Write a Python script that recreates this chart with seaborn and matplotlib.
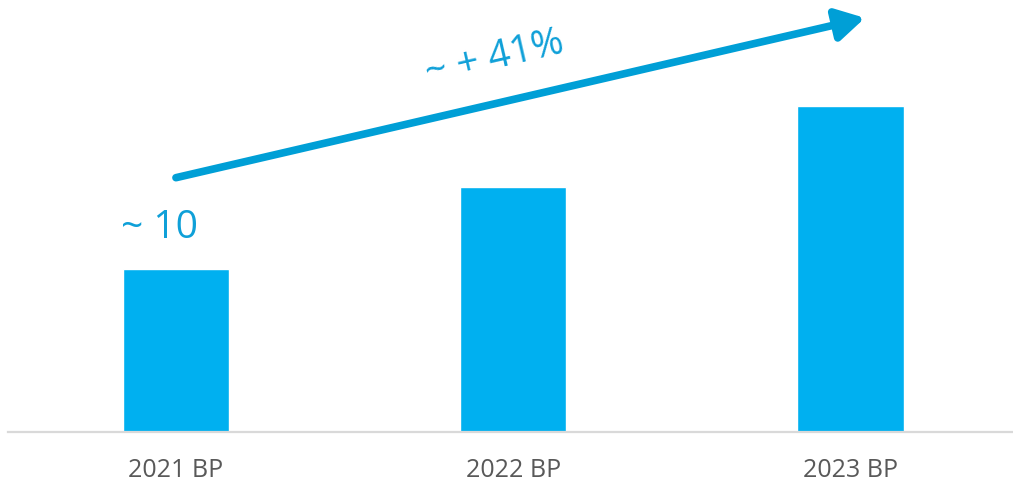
import matplotlib
matplotlib.use("Agg")
import matplotlib.pyplot as plt
import seaborn as sns
import pandas as pd

# Business-plan volumes by year
categories = ["2021 BP", "2022 BP", "2023 BP"]
values = [10, 15, 20]
first_label = "~ 10"
growth_label = "~ + 41%"

sns.set_theme(style="white")
plt.rcParams["font.family"] = ["Open Sans", "DejaVu Sans"]

BAR_BLUE = "#00B0F0"
TEXT_BLUE = "#0FA0D8"
ARROW_BLUE = "#009FD6"
GRAY_TEXT = "#595959"
AXIS_GRAY = "#D9D9D9"

df = pd.DataFrame({"year": categories, "value": values})

fig = plt.figure(figsize=(10.13, 4.84), dpi=100)
ax = fig.add_axes([8 / 1013, 52 / 484, 1 - 8 / 1013, 432 / 484])

sns.barplot(data=df, x="year", y="value", color=BAR_BLUE, width=0.315,
            saturation=1, ax=ax)

ax.set_xlim(-0.498, 2.482)
ax.set_ylim(0, 26.5)

for side in ["top", "right", "left"]:
    ax.spines[side].set_visible(False)
ax.spines["bottom"].set_color(AXIS_GRAY)
ax.spines["bottom"].set_linewidth(1.6)

ax.set_yticks([])
ax.set_xlabel("")
ax.set_ylabel("")
ax.tick_params(axis="x", length=0, pad=19, labelsize=18, labelcolor=GRAY_TEXT)

# Value label on the first bar
ax.text(-0.05, values[0] + 1.35, first_label, ha="center", va="bottom",
        fontsize=28, color=TEXT_BLUE)

# Growth arrow across the bars
ax.annotate("", xy=(2.043, 25.4), xytext=(0.0, 15.6),
            arrowprops=dict(arrowstyle="-|>,head_length=1.4,head_width=0.8",
                            color=ARROW_BLUE, lw=5.5, shrinkA=0, shrinkB=0),
            annotation_clip=False)
ax.text(0.946, 22.9, growth_label, ha="center", va="center", rotation=13,
        rotation_mode="anchor", fontsize=28, color=TEXT_BLUE)

fig.savefig("out.png", dpi=100)
